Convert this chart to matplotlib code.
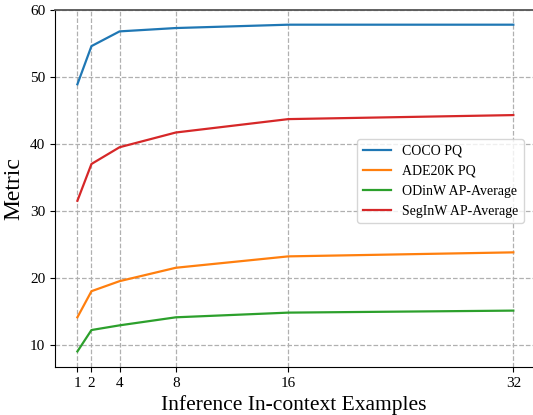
import numpy as np
import matplotlib.pyplot as plt

plt.rcParams['font.family'] = ['Liberation Serif', 'DejaVu Serif']

# in-context examples
shots = [1, 2, 4, 8, 16, 32]
coco_pq = [48.9, 54.6, 56.8, 57.3, 57.8, 57.8]
ade_pq = [14.1, 18.0, 19.5, 21.5, 23.2, 23.8]
odinw_ap = [9.0, 12.2, 12.9, 14.1, 14.8, 15.1]
seginw_ap = [31.5, 37.0, 39.5, 41.7, 43.7, 44.3]
names = ['COCO PQ', 'ADE20K PQ', 'ODinW AP-Average', 'SegInW AP-Average']

fig = plt.figure(figsize=(5.33, 4.15), dpi=100)
ax = fig.add_axes([0.103, 0.116, 0.897, 0.86])

for vals, name, c in zip([coco_pq, ade_pq, odinw_ap, seginw_ap], names,
                         ['#1f77b4', '#ff7f0e', '#2ca02c', '#d62728']):
    ax.plot(shots, vals, color=c, linewidth=1.6, label=name)

ax.set_xticks(shots)
ax.set_xlim(-0.6, 33.4)
ax.set_ylim(6.7, 60)
ax.set_yticks([10, 20, 30, 40, 50, 60])
ax.grid(True, linestyle='--', color='#b0b0b0', linewidth=0.9)
ax.tick_params(labelsize=11)
ax.spines['top'].set_color('#555555')
ax.spines['top'].set_linewidth(1.3)
ax.spines['right'].set_visible(False)

ax.set_xlabel('Inference In-context Examples', fontsize=15.5)
ax.set_ylabel('Metric', fontsize=17)
ax.legend(loc='center right', fontsize=10, bbox_to_anchor=(0.995, 0.52))

plt.savefig('out.png', dpi=100)
